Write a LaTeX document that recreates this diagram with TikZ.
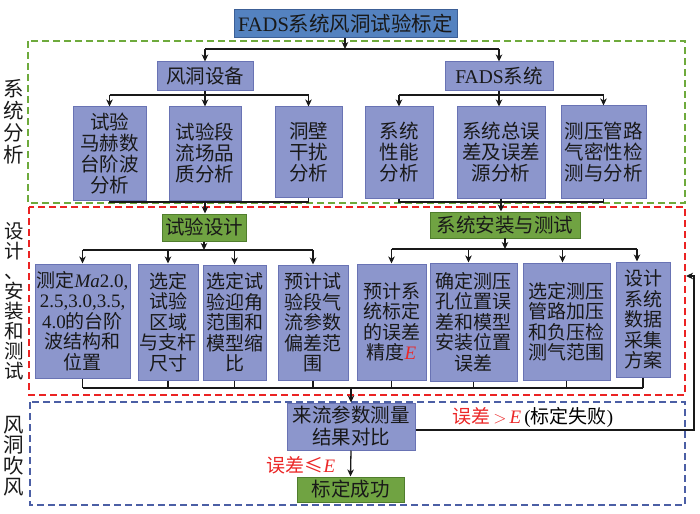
\documentclass[tikz,border=0pt]{standalone}
\usepackage{fontspec}
\setmainfont{Noto Sans CJK SC}
\newfontfamily\lat{Liberation Serif}
\usetikzlibrary{arrows.meta}
\newcommand\la[1]{{\lat #1}}
\newcommand\redE{\textcolor{errred}{\lat\itshape E}}
\definecolor{boxfill}{RGB}{140,150,204}
\definecolor{boxdraw}{RGB}{105,115,180}
\definecolor{titlefill}{RGB}{84,130,192}
\definecolor{titledraw}{RGB}{60,95,150}
\definecolor{gfill}{RGB}{112,163,66}
\definecolor{gdraw}{RGB}{80,125,45}
\definecolor{gdash}{RGB}{110,170,60}
\definecolor{rdash}{RGB}{235,35,35}
\definecolor{bdash}{RGB}{75,95,165}
\definecolor{errred}{RGB}{235,40,40}
\definecolor{ink}{RGB}{25,25,25}
\tikzset{
  base/.style={inner sep=0pt, align=center, text=ink, line width=1pt},
  box/.style={base, draw=boxdraw, fill=boxfill, font=\fontsize{19}{20.5}\selectfont},
  ubox/.style={box, font=\fontsize{19.5}{21}\selectfont},
  tbox/.style={base, draw=titledraw, fill=titlefill, font=\fontsize{20.5}{22}\selectfont},
  gbox/.style={base, draw=gdraw, fill=gfill, font=\fontsize{19.5}{20}\selectfont},
  conn/.style={draw=ink, line width=1.3pt},
  arr/.style={conn, -{Stealth[length=7pt,width=6.5pt,inset=2pt]}},
  zone/.style={line width=1.6pt, dash pattern=on 7pt off 4pt},
  lab/.style={inner sep=0pt, align=center, text=ink},
  note/.style={inner sep=0pt, font=\fontsize{19}{20}\selectfont},
}
\begin{document}
\begin{tikzpicture}[x=1pt,y=-1pt]
\useasboundingbox (0,0) rectangle (700,513);
% zones
\draw[zone, draw=gdash] (28,41) rectangle (685,203);
\draw[zone, draw=rdash] (29,207) rectangle (685,395);
\draw[zone, draw=bdash] (30,402) rectangle (685,505);
% side labels
\node[lab, font=\fontsize{20.5}{22}\selectfont] (l1) at (14,122) {系\\统\\分\\析};
\node[lab, font=\fontsize{19.5}{20}\selectfont] (l2) at (14,301) {设\\计\\、\\安\\装\\和\\测\\试};
\node[lab, font=\fontsize{20.5}{20.8}\selectfont] (l3) at (14,456) {风\\洞\\吹\\风};
% title
\node[tbox, minimum width=223pt, minimum height=28pt] (title) at (345.5,24) {\la{FADS}系统风洞试验标定};
\node[ubox, minimum width=96pt, minimum height=29pt] (wd) at (205,76.5) {风洞设备};
\node[ubox, minimum width=108pt, minimum height=29pt] (fads) at (499,76.5) {\la{FADS}系统};
% upper row
\node[ubox, minimum width=73pt, minimum height=93pt] (b1) at (109.5,153.5) {试验\\马赫数\\台阶波\\分析};
\node[ubox, minimum width=72pt, minimum height=93pt] (b2) at (205,153.5) {试验段\\流场品\\质分析};
\node[ubox, minimum width=67pt, minimum height=90pt] (b3) at (308.5,152) {洞壁\\干扰\\分析};
\node[ubox, minimum width=68pt, minimum height=91pt] (b4) at (399,152.5) {系统\\性能\\分析};
\node[ubox, minimum width=88pt, minimum height=91pt] (b5) at (501,152.5) {系统总误\\差及误差\\源分析};
\node[ubox, minimum width=85pt, minimum height=92pt] (b6) at (603.5,152) {测压管路\\气密性检\\测与分析};
% green
\node[gbox, minimum width=84pt, minimum height=27pt] (sy) at (204,227.5) {试验设计};
\node[gbox, minimum width=150pt, minimum height=26pt] (az) at (505,225) {系统安装与测试};
% lower row
\node[box, minimum width=95pt, minimum height=114pt] (c1) at (82.5,321) {测定{\lat\itshape Ma}\la{2.0,}\\\la{2.5,3.0,3.5,}\\\la{4.0}的台阶\\波结构和\\位置};
\node[box, minimum width=60pt, minimum height=116pt] (c2) at (168,322) {选定\\试验\\区域\\与支杆\\尺寸};
\node[box, minimum width=63pt, minimum height=115pt] (c3) at (234.5,322.5) {选定试\\验迎角\\范围和\\模型缩\\比};
\node[box, minimum width=70pt, minimum height=115pt] (c4) at (313,322.5) {预计试\\验段气\\流参数\\偏差范\\围};
\node[box, minimum width=69pt, minimum height=116pt] (c5) at (391.5,322) {预计系\\统标定\\的误差\\精度\redE};
\node[box, minimum width=87pt, minimum height=118pt] (c6) at (473.5,322) {确定测压\\孔位置误\\差和模型\\安装位置\\误差};
\node[box, minimum width=87pt, minimum height=117pt] (c7) at (566.5,321.5) {选定测压\\管路加压\\和负压检\\测气范围};
\node[box, minimum width=54pt, minimum height=115pt] (c8) at (643,319.5) {设计\\系统\\数据\\采集\\方案};
% bottom
\node[box, minimum width=128pt, minimum height=47pt, font=\fontsize{19.5}{22}\selectfont] (ll) at (351,426.5) {来流参数测量\\结果对比};
\node[gbox, minimum width=107pt, minimum height=25pt] (ok) at (350.5,489.5) {标定成功};
% coordinates
\coordinate (h0) at (345,49);
\coordinate (h1) at (0,95);
\coordinate (h2) at (0,202);
\coordinate (h3) at (0,250);
\coordinate (h4) at (0,388);
\coordinate (fbtop) at (694,276);
\coordinate (fbend) at (686,276);
% title connectors
\draw[arr] (title.south -| h0) -- (h0);
\draw[conn] (wd.north |- h0) -- (fads.north |- h0);
\draw[arr] (wd.north |- h0) -- (wd.north);
\draw[arr] (fads.north |- h0) -- (fads.north);
% upper branches
\draw[conn] (b1.north |- h1) -- (b3.north |- h1);
\draw[arr] (wd.south) -- (b2.north);
\draw[arr] (b1.north |- h1) -- (b1.north);
\draw[arr] (b3.north |- h1) -- (b3.north);
\draw[conn] (b4.north |- h1) -- (b6.north |- h1);
\draw[arr] (fads.south) -- (fads.south |- b5.north);
\draw[arr] (b4.north |- h1) -- (b4.north);
\draw[arr] (b6.north |- h1) -- (b6.north);
% upper merges
\draw[conn] (b1.south) -- (b1.south |- h2) -- (b3.south |- h2) -- (b3.south);
\draw[arr] (b2.south) -- (b2.south |- sy.north);
\draw[conn] (b4.south) -- (b4.south |- h2) -- (b6.south |- h2) -- (b6.south);
\draw[arr] (b5.south) -- (b5.south |- az.north);
% lower branches
\draw[arr] (sy.south) -- (sy.south |- h3);
\draw[conn] (c1.north |- h3) -- (c4.north |- h3);
\foreach \n in {c1,c2,c3,c4} \draw[arr] (\n.north |- h3) -- (\n.north);
\draw[arr] ([yshift=1pt]az.south) -- (az.south |- 0,249);
\draw[conn] (c5.north |- 0,249) -- ([xshift=-6pt]c8.north |- 0,249);
\draw[arr] (c5.north |- 0,249) -- (c5.north);
\draw[arr] ([xshift=-5pt]c6.north |- 0,249) -- ([xshift=-5pt]c6.north);
\draw[arr] ([xshift=-4pt]c7.north |- 0,249) -- ([xshift=-4pt]c7.north);
\draw[arr] ([xshift=-6pt]c8.north |- 0,249) -- ([xshift=-6pt]c8.north);
% lower merge
\draw[conn] (c1.south |- h4) -- (c8.south |- h4);
\foreach \n in {c1,c2,c3,c4,c5,c6,c7,c8} \draw[conn] (\n.south) -- (\n.south |- h4);
\draw[arr] (ll.north |- h4) -- (ll.north);
\draw[arr] (ll.south) -- (ok.north);
\draw[arr] ([yshift=-3.5pt]ll.east) -| (fbtop) -- (fbend);
% notes
\node[note, text=errred] (n1) at (301,465) {误差≤{\lat\itshape E}};
\node[note, anchor=west] (n2) at (452,417) {\textcolor{errred}{误差\,$>$\,{\lat\itshape E}}\,\la{(}标定失败\la{)}};
\end{tikzpicture}
\end{document}
